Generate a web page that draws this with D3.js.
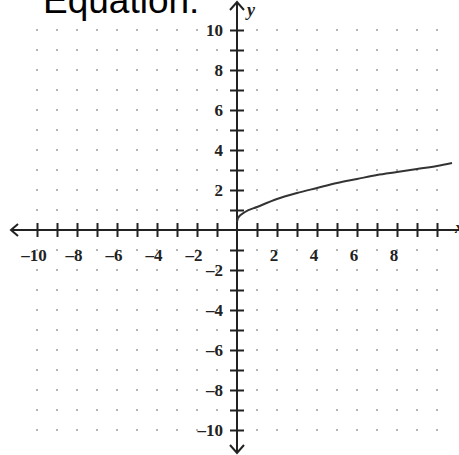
<!DOCTYPE html>
<html>
<head>
<meta charset="utf-8">
<script src="https://cdn.jsdelivr.net/npm/d3@7"></script>
<style>
  html, body { margin: 0; padding: 0; background: #fff; }
  svg { display: block; }
</style>
</head>
<body>
<svg id="chart" width="459" height="455"></svg>
<script>
// Plotted curve, sampled points (x, y)
const curveX = [0, 0.05, 0.4, 1, 2, 3, 4, 5, 6, 7, 8, 9, 10, 10.75];
const curveY = [0.4, 0.6, 0.9, 1.15, 1.55, 1.85, 2.1, 2.35, 2.55, 2.75, 2.9, 3.05, 3.2, 3.35];

// Axis tick marks and labels
const tickValues = [-10, -9, -8, -7, -6, -5, -4, -3, -2, -1, 1, 2, 3, 4, 5, 6, 7, 8, 9, 10];
const xLabels = [-10, -8, -6, -4, -2, 2, 4, 6, 8];
const yLabels = [10, 8, 6, 4, 2, -2, -4, -6, -8, -10];
const titleText = "Equation:";

const svg = d3.select("#chart");
const x = d3.scaleLinear().domain([-10, 10]).range([37, 437]);
const y = d3.scaleLinear().domain([-10, 10]).range([430, 30]);
const ink = "#222";
const fmt = v => (v < 0 ? "\u2013" + Math.abs(v) : String(v));

// title, cropped at the top edge
svg.append("text")
  .attr("x", 43).attr("y", 13)
  .attr("font-family", "Arial, 'Liberation Sans', sans-serif")
  .attr("font-size", 37)
  .attr("fill", "#000")
  .text(titleText);

// dotted grid at integer lattice points
const lattice = [];
tickValues.forEach(i => tickValues.forEach(j => lattice.push([i, j])));
svg.append("g").selectAll("rect").data(lattice).join("rect")
  .attr("x", d => x(d[0]) - 1).attr("y", d => y(d[1]) - 1)
  .attr("width", 2).attr("height", 2)
  .attr("fill", "#b4b4b4");

// axis lines
const axes = svg.append("g").attr("stroke", ink).attr("stroke-width", 2).attr("fill", "none");
axes.append("line").attr("x1", x(-11.3)).attr("x2", x(11.6)).attr("y1", y(0)).attr("y2", y(0));
axes.append("line").attr("x1", x(0)).attr("x2", x(0)).attr("y1", y(11.4)).attr("y2", y(-11.15));

// arrow heads
const ax0 = x(-11.3), ay0 = y(0), tx = x(0), ty = y(11.4), by = y(-11.15);
axes.append("path").attr("d", `M${ax0 + 7},${ay0 - 6}L${ax0},${ay0}L${ax0 + 7},${ay0 + 6}`);
axes.append("path").attr("d", `M${tx - 7},${ty + 8}L${tx},${ty}L${tx + 7},${ty + 8}`);
axes.append("path").attr("d", `M${tx - 7},${by - 8}L${tx},${by}L${tx + 7},${by - 8}`);

// ticks crossing the axes
const tickStyle = g => {
  g.select(".domain").remove();
  g.selectAll(".tick line").attr("stroke", ink).attr("stroke-width", 2);
};
svg.append("g").attr("transform", `translate(0,${y(0)})`)
  .call(d3.axisBottom(x).tickValues(tickValues).tickSize(7).tickFormat(""))
  .call(tickStyle);
svg.append("g").attr("transform", `translate(0,${y(0)})`)
  .call(d3.axisTop(x).tickValues(tickValues).tickSize(7).tickFormat(""))
  .call(tickStyle);
svg.append("g").attr("transform", `translate(${x(0)},0)`)
  .call(d3.axisLeft(y).tickValues(tickValues).tickSize(7).tickFormat(""))
  .call(tickStyle);
svg.append("g").attr("transform", `translate(${x(0)},0)`)
  .call(d3.axisRight(y).tickValues(tickValues).tickSize(7).tickFormat(""))
  .call(tickStyle);

// tick labels
const labelFont = "'Liberation Serif', 'Times New Roman', serif";
svg.append("g").selectAll("text").data(xLabels).join("text")
  .attr("x", d => x(d) - 3).attr("y", y(0) + 31)
  .attr("text-anchor", "middle")
  .attr("font-family", labelFont).attr("font-size", 17).attr("font-weight", "bold")
  .attr("fill", ink)
  .text(fmt);
svg.append("g").selectAll("text").data(yLabels).join("text")
  .attr("x", x(0) - 14).attr("y", d => y(d)).attr("dy", "0.35em")
  .attr("text-anchor", "end")
  .attr("font-family", labelFont).attr("font-size", 17).attr("font-weight", "bold")
  .attr("fill", ink)
  .text(fmt);

// axis names
svg.append("text").attr("x", x(0) + 10).attr("y", y(10.7))
  .attr("font-family", labelFont).attr("font-size", 18).attr("font-style", "italic").attr("font-weight", "bold")
  .attr("fill", ink).text("y");
svg.append("text").attr("x", x(10.9)).attr("y", y(-0.15))
  .attr("font-family", labelFont).attr("font-size", 17).attr("font-style", "italic").attr("font-weight", "bold")
  .attr("fill", ink).text("x");

// the curve
const pts = curveX.map((v, i) => [v, curveY[i]]);
svg.append("path").datum(pts)
  .attr("fill", "none").attr("stroke", "#333").attr("stroke-width", 2)
  .attr("d", d3.line().x(d => x(d[0])).y(d => y(d[1])).curve(d3.curveMonotoneX));
</script>
</body>
</html>
